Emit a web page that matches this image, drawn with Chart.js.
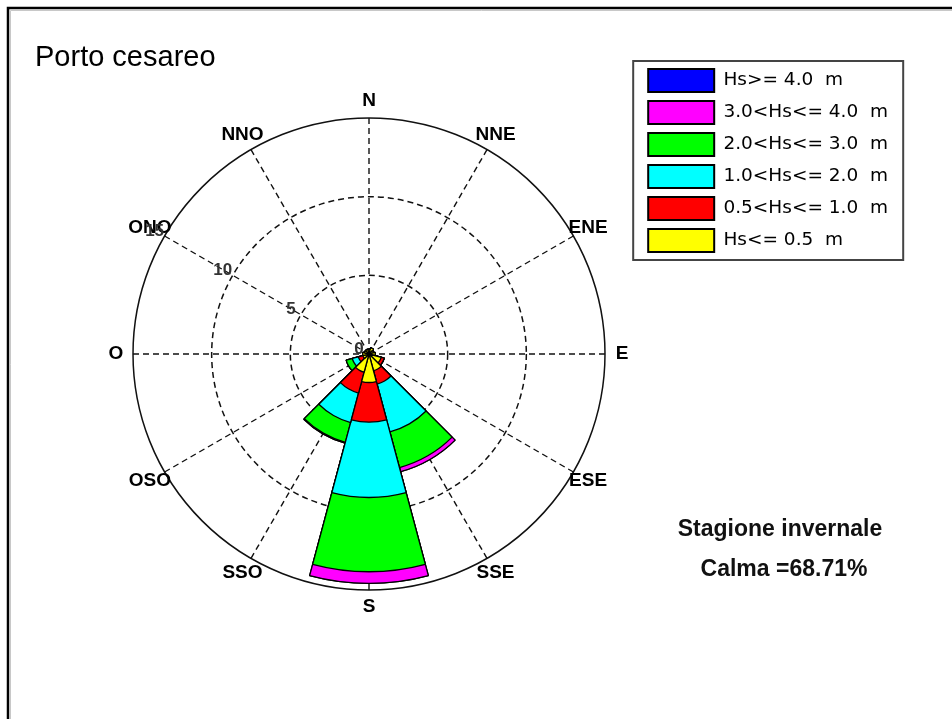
<!DOCTYPE html>
<html>
<head>
<meta charset="utf-8">
<script src="https://cdn.jsdelivr.net/npm/chart.js@4/dist/chart.umd.min.js"></script>
<style>
html,body{margin:0;padding:0;background:#fff;}
canvas{display:block;}
</style>
</head>
<body>
<canvas id="c" width="952" height="719"></canvas>
<script>
// ---- data (percent of occurrences per direction sector) ----
const directions = ['N','NNE','ENE','E','ESE','SSE','S','SSO','OSO','O','ONO','NNO'];
const classLabels = ['Hs<= 0.5  m','0.5<Hs<= 1.0  m','1.0<Hs<= 2.0  m','2.0<Hs<= 3.0  m','3.0<Hs<= 4.0  m','Hs>= 4.0  m'];
const classColors = ['#FFFF00','#FF0000','#00FFFF','#00FF00','#FF00FF','#0000FF'];
const hsUpTo05  = [0.3, 0.4, 0.3, 0.4, 0.8, 1.1, 1.81, 1.2, 0.4, 0.4, 0.3, 0.3];
const hs05to10  = [0, 0, 0, 0, 0.2, 0.88, 2.52, 1.37, 0.3, 0, 0, 0];
const hs10to20  = [0, 0, 0, 0, 0, 3.15, 4.79, 1.94, 0.4, 0, 0, 0];
const hs20to30  = [0, 0, 0, 0, 0, 2.34, 4.72, 1.3, 0.4, 0, 0, 0];
const hs30to40  = [0, 0, 0, 0, 0, 0.27, 0.74, 0.05, 0, 0, 0, 0];
const hsFrom40  = [0, 0, 0, 0, 0, 0, 0, 0, 0, 0, 0, 0];
const radialTicks = [0, 5, 10, 15];
const tickDirection = 'ONO';
const chartTitle = 'Porto cesareo';
const seasonText = 'Stagione invernale';
const calmText = 'Calma =68.71%';

const classSeries = [hsUpTo05, hs05to10, hs10to20, hs20to30, hs30to40, hsFrom40];
// stacked rose: each dataset is the cumulative total up to its class
const cumulative = [];
classSeries.forEach((s, k) => {
  cumulative.push(s.map((v, i) => (k ? cumulative[k - 1][i] : 0) + v));
});
const datasets = cumulative.map((vals, k) => ({
  label: classLabels[k],
  data: vals,
  backgroundColor: classColors[k],
  borderColor: '#000',
  borderWidth: 1.3,
  rAxisID: 'r'
}));

const FONT = '"Liberation Sans", Arial, sans-serif';

const decor = {
  id: 'decor',
  beforeDraw(chart) {
    const ctx = chart.ctx;
    ctx.save();
    ctx.fillStyle = '#fff';
    ctx.fillRect(0, 0, chart.width, chart.height);
    ctx.strokeStyle = '#000';
    ctx.lineWidth = 2.5;
    ctx.beginPath();
    ctx.moveTo(8, chart.height); ctx.lineTo(8, 8); ctx.lineTo(chart.width, 8);
    ctx.stroke();
    ctx.strokeStyle = '#c8c8c8';
    ctx.lineWidth = 1;
    ctx.beginPath();
    ctx.moveTo(10.5, chart.height); ctx.lineTo(10.5, 10.5); ctx.lineTo(chart.width, 10.5);
    ctx.stroke();
    ctx.restore();
  },
  afterDraw(chart) {
    const ctx = chart.ctx;
    const g = chart.scales.rg;
    const outer = g.getDistanceFromCenterForValue(g.max);
    ctx.save();
    // direction labels
    ctx.font = 'bold 19px ' + FONT;
    ctx.textAlign = 'center';
    ctx.textBaseline = 'middle';
    ctx.fillStyle = '#000';
    g._pointLabels.forEach((lab, i) => {
      const p = g.getPointPosition(i, outer + 17);
      ctx.fillText(lab, p.x, p.y);
    });
    // radial tick labels along one direction
    const idx = directions.indexOf(tickDirection);
    ctx.font = 'bold 17px ' + FONT;
    ctx.fillStyle = '#333';
    radialTicks.forEach(v => {
      const p = g.getPointPositionForValue(idx, v);
      ctx.fillText(String(v), p.x - 10, p.y - 5);
    });
    // legend frame
    const hb = chart.legend.legendHitBoxes;
    if (hb && hb.length) {
      const x0 = hb[0].left - 15, y0 = hb[0].top - 8;
      const last = hb[hb.length - 1];
      const y1 = last.top + last.height + 8;
      ctx.strokeStyle = '#444';
      ctx.lineWidth = 2;
      ctx.strokeRect(x0, y0, 270, y1 - y0);
    }
    // annotation
    ctx.font = 'bold 23px ' + FONT;
    ctx.fillStyle = '#111';
    ctx.fillText(seasonText, 780, 530);
    ctx.fillText(calmText, 784, 570);
    ctx.restore();
  }
};

new Chart(document.getElementById('c'), {
  type: 'polarArea',
  data: { labels: directions, datasets },
  options: {
    responsive: false,
    animation: false,
    devicePixelRatio: 1,
    events: [],
    layout: { padding: { left: 35, top: 60, right: 54, bottom: 129 } },
    scales: {
      r: {
        type: 'radialLinear', axis: 'r', display: false,
        min: 0, max: 15, startAngle: -15,
        ticks: { display: false, stepSize: 5 },
        pointLabels: { display: false },
        grid: { display: false },
        angleLines: { display: false }
      },
      rg: {
        type: 'radialLinear', axis: 'r', display: true,
        min: 0, max: 15, startAngle: 0,
        ticks: { display: false, stepSize: 5 },
        pointLabels: { display: false },
        grid: { display: true, circular: true, color: '#111', lineWidth: 1.5 },
        border: { dash: c => (c.tick && c.tick.value < 15) ? [6, 4] : [] },
        angleLines: { display: true, color: '#111', lineWidth: 1.4, borderDash: [6, 4] }
      }
    },
    plugins: {
      tooltip: { enabled: false },
      title: {
        display: true, text: chartTitle, position: 'top', align: 'start', fullSize: true,
        color: '#000', font: { family: FONT, size: 29, weight: 'normal', lineHeight: 1.2 },
        padding: { top: -19.4, bottom: 42.6 }
      },
      subtitle: {
        display: true, text: '', position: 'left', fullSize: false,
        font: { size: 10, lineHeight: 1 }, padding: { top: 0, bottom: 54 }
      },
      legend: {
        display: true, position: 'right', align: 'start', fullSize: true, maxWidth: 320,
        labels: {
          boxWidth: 66, boxHeight: 23, padding: 9, color: '#000',
          font: { family: '"DejaVu Sans", sans-serif', size: 18.5 },
          generateLabels: chart => chart.data.datasets.map((ds, i) => ({
            text: ds.label, fillStyle: ds.backgroundColor, strokeStyle: '#000',
            lineWidth: 2, hidden: false, datasetIndex: i
          })).reverse()
        }
      }
    }
  },
  plugins: [decor]
});
</script>
</body>
</html>
